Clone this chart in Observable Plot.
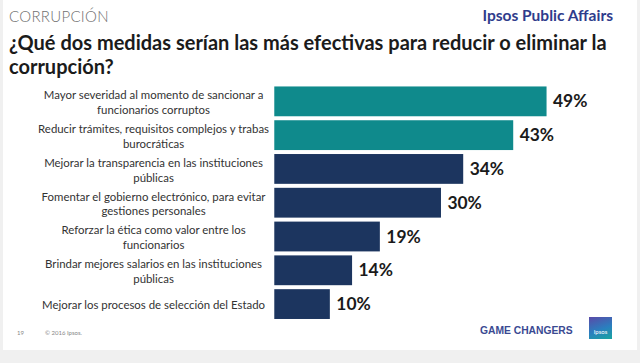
<!DOCTYPE html>
<html>
<head>
<meta charset="utf-8">
<script src="https://cdn.jsdelivr.net/npm/d3@7"></script>
<script src="https://cdn.jsdelivr.net/npm/@observablehq/plot@0.6"></script>
<style>
  html, body { margin: 0; padding: 0; background: #f0f0f0; }
  #slide { position: relative; width: 634px; height: 350px; margin-left: 3px; background: #fff; overflow: visible; font-family: Lato, "Open Sans", sans-serif; }
  #chart { position: absolute; left: -2px; top: 0; }
  .abs { position: absolute; white-space: nowrap; }
  #section { left: 6px; top: 7px; font-size: 15px; font-weight: 300; color: #707070; letter-spacing: 0.3px; }
  #brand { right: 24px; top: 6px; font-size: 15.5px; font-weight: 700; color: #2f3c8c; }
  #title { left: 6px; top: 30px; font-size: 20px; font-weight: 700; color: #1b1b1b; line-height: 24px; white-space: normal; width: 625px; }
  #pg { left: 14px; top: 329px; font-size: 6px; color: #888; }
  #copy { left: 42px; top: 329px; font-size: 6px; color: #888; }
  #gc { left: 477px; top: 325px; font-size: 10.3px; font-weight: 700; color: #3a4a92; font-family: "Liberation Sans", Arial, sans-serif; }
  #logo { left: 586px; top: 317px; width: 23px; height: 22px; background: linear-gradient(160deg, #5a4aa8 0%, #2a7fbf 55%, #19a5a0 100%); color: #fff; font-size: 6px; text-align: center; line-height: 30px; }
</style>
</head>
<body>
<div id="slide">
  <div id="chart"></div>
  <div class="abs" id="section">CORRUPCIÓN</div>
  <div class="abs" id="brand">Ipsos Public Affairs</div>
  <div class="abs" id="title">¿Qué dos medidas serían las más efectivas para reducir o eliminar la corrupción?</div>
  <div class="abs" id="pg">19</div>
  <div class="abs" id="copy">© 2016 Ipsos.</div>
  <div class="abs" id="gc">GAME CHANGERS</div>
  <div class="abs" id="logo">Ipsos</div>
</div>
<script>
const categories = [
  "Mayor severidad al momento de sancionar a\nfuncionarios corruptos",
  "Reducir trámites, requisitos complejos y trabas\nburocráticas",
  "Mejorar la transparencia en las instituciones\npúblicas",
  "Fomentar el gobierno electrónico, para evitar\ngestiones personales",
  "Reforzar la ética como valor entre los\nfuncionarios",
  "Brindar mejores salarios en las instituciones\npúblicas",
  "Mejorar los procesos de selección del Estado"
];
const values = [49, 43, 34, 30, 19, 14, 10];
const highlighted = [true, true, false, false, false, false, false];

const data = categories.map((c, i) => ({category: c, value: values[i], hi: highlighted[i]}));

const chart = Plot.plot({
  width: 640,
  height: 363,
  marginLeft: 275,
  marginRight: 29.5,
  marginTop: 85,
  marginBottom: 40,
  style: {background: "transparent", fontFamily: "Lato, 'Open Sans', sans-serif"},
  x: {domain: [0, 60], axis: null},
  y: {domain: categories, axis: null, paddingInner: 0.118, paddingOuter: 0.059},
  color: {domain: [true, false], range: ["#0f8a8c", "#1c355f"]},
  marks: [
    Plot.barX(data, {y: "category", x: "value", fill: d => d.hi}),
    Plot.text(data, {y: "category", x: 0, text: "category", dx: -122, textAnchor: "middle", fontSize: 11.5, fill: "#333", lineHeight: 1.3}),
    Plot.text(data, {y: "category", x: "value", text: d => d.value + "%", dx: 6, textAnchor: "start", fontSize: 17.5, fontWeight: "bold", fill: "#1a1a1a"})
  ]
});
document.getElementById("chart").appendChild(chart);
</script>
</body>
</html>
